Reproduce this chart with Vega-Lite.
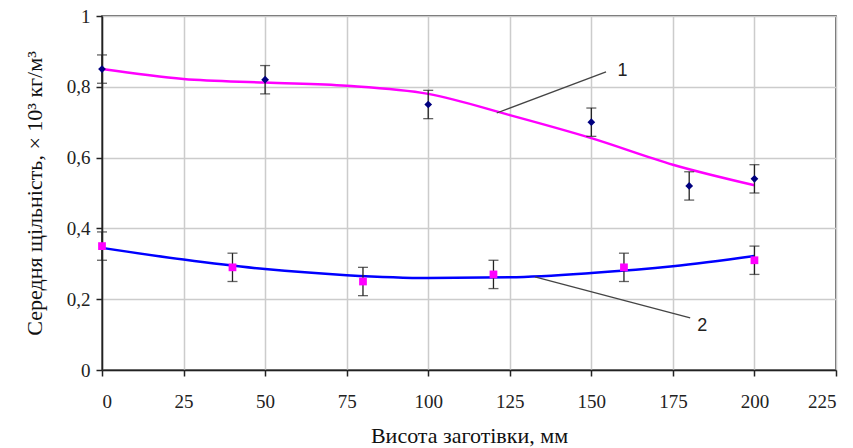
{
  "$schema": "https://vega.github.io/schema/vega-lite/v6.json",
  "width": 734,
  "height": 354,
  "autosize": "none",
  "padding": {"left": 102, "top": 16, "right": 17, "bottom": 78},
  "background": "white",
  "config": {
    "view": {"stroke": "#333", "strokeWidth": 1.5},
    "axis": {"labelFont": "Liberation Serif", "titleFont": "Liberation Serif", "labelFontSize": 19, "titleFontSize": 22, "titleFontWeight": "normal", "labelColor": "#222", "titleColor": "#111", "gridColor": "#cccccc", "gridWidth": 1.5, "domainColor": "#222", "tickColor": "#222", "domainWidth": 1.5, "tickWidth": 1.5, "tickSize": 6}
  },
  "datasets": {
    "pts": [
      {"s": "1", "x": 0, "y": 0.85, "lo": 0.81, "hi": 0.89},
      {"s": "1", "x": 50, "y": 0.82, "lo": 0.78, "hi": 0.86},
      {"s": "1", "x": 100, "y": 0.75, "lo": 0.71, "hi": 0.79},
      {"s": "1", "x": 150, "y": 0.70, "lo": 0.66, "hi": 0.74},
      {"s": "1", "x": 180, "y": 0.52, "lo": 0.48, "hi": 0.56},
      {"s": "1", "x": 200, "y": 0.54, "lo": 0.50, "hi": 0.58},
      {"s": "2", "x": 0, "y": 0.35, "lo": 0.31, "hi": 0.39},
      {"s": "2", "x": 40, "y": 0.29, "lo": 0.25, "hi": 0.33},
      {"s": "2", "x": 80, "y": 0.25, "lo": 0.21, "hi": 0.29},
      {"s": "2", "x": 120, "y": 0.27, "lo": 0.23, "hi": 0.31},
      {"s": "2", "x": 160, "y": 0.29, "lo": 0.25, "hi": 0.33},
      {"s": "2", "x": 200, "y": 0.31, "lo": 0.27, "hi": 0.35}
    ],
    "curves": [
      {"s": "1", "x": 0, "y": 0.85},
      {"s": "1", "x": 25, "y": 0.822},
      {"s": "1", "x": 50, "y": 0.812},
      {"s": "1", "x": 75, "y": 0.803},
      {"s": "1", "x": 100, "y": 0.78},
      {"s": "1", "x": 125, "y": 0.72},
      {"s": "1", "x": 150, "y": 0.655},
      {"s": "1", "x": 175, "y": 0.58},
      {"s": "1", "x": 200, "y": 0.522},
      {"s": "2", "x": 0, "y": 0.345},
      {"s": "2", "x": 25, "y": 0.312},
      {"s": "2", "x": 50, "y": 0.285},
      {"s": "2", "x": 75, "y": 0.268},
      {"s": "2", "x": 100, "y": 0.26},
      {"s": "2", "x": 125, "y": 0.262},
      {"s": "2", "x": 150, "y": 0.274},
      {"s": "2", "x": 175, "y": 0.293},
      {"s": "2", "x": 200, "y": 0.322}
    ],
    "leaders": [
      {"k": "1", "x": 121, "y": 0.726},
      {"k": "1", "x": 154.5, "y": 0.842},
      {"k": "2", "x": 132.7, "y": 0.263},
      {"k": "2", "x": 180.3, "y": 0.147}
    ],
    "labels": [
      {"t": "1", "x": 158, "y": 0.845},
      {"t": "2", "x": 182.5, "y": 0.125}
    ]
  },
  "layer": [
    {
      "data": {"name": "curves"},
      "mark": {"type": "line", "strokeWidth": 2.5, "interpolate": "monotone"},
      "encoding": {
        "x": {"field": "x", "type": "quantitative", "scale": {"domain": [0, 225], "nice": false}, "axis": {"values": [0,25,50,75,100,125,150,175,200,225], "title": "Висота заготівки, мм", "titlePadding": 14, "labelPadding": 16}},
        "y": {"field": "y", "type": "quantitative", "scale": {"domain": [0, 1], "nice": false}, "axis": {"values": [0,0.2,0.4,0.6,0.8,1], "labelExpr": "replace(format(datum.value, '~g'), '.', ',')", "title": "Середня щільність, × 10³ кг/м³", "titlePadding": 20, "labelPadding": 6}},
        "color": {"field": "s", "type": "nominal", "scale": {"domain": ["1", "2"], "range": ["#ff00ff", "#0000ff"]}, "legend": null}
      }
    },
    {
      "data": {"name": "pts"},
      "mark": {"type": "rule", "color": "#222", "strokeWidth": 1.3},
      "encoding": {
        "x": {"field": "x", "type": "quantitative"},
        "y": {"field": "lo", "type": "quantitative"},
        "y2": {"field": "hi"}
      }
    },
    {
      "data": {"name": "pts"},
      "mark": {"type": "tick", "color": "#222", "orient": "horizontal", "size": 10, "thickness": 1.3},
      "encoding": {
        "x": {"field": "x", "type": "quantitative"},
        "y": {"field": "lo", "type": "quantitative"}
      }
    },
    {
      "data": {"name": "pts"},
      "mark": {"type": "tick", "color": "#222", "orient": "horizontal", "size": 10, "thickness": 1.3},
      "encoding": {
        "x": {"field": "x", "type": "quantitative"},
        "y": {"field": "hi", "type": "quantitative"}
      }
    },
    {
      "data": {"name": "pts"},
      "mark": {"type": "point", "filled": true, "opacity": 1},
      "encoding": {
        "x": {"field": "x", "type": "quantitative"},
        "y": {"field": "y", "type": "quantitative"},
        "shape": {"field": "s", "type": "nominal", "scale": {"domain": ["1", "2"], "range": ["diamond", "square"]}, "legend": null},
        "fill": {"field": "s", "type": "nominal", "scale": {"domain": ["1", "2"], "range": ["#000080", "#ff00ff"]}, "legend": null},
        "size": {"value": 60}
      }
    },
    {
      "data": {"name": "leaders"},
      "mark": {"type": "line", "color": "#444", "strokeWidth": 1.3},
      "encoding": {
        "x": {"field": "x", "type": "quantitative"},
        "y": {"field": "y", "type": "quantitative"},
        "detail": {"field": "k"}
      }
    },
    {
      "data": {"name": "labels"},
      "mark": {"type": "text", "font": "Liberation Sans", "fontSize": 18, "color": "#222", "align": "left", "baseline": "middle"},
      "encoding": {
        "x": {"field": "x", "type": "quantitative"},
        "y": {"field": "y", "type": "quantitative"},
        "text": {"field": "t"}
      }
    }
  ]
}
